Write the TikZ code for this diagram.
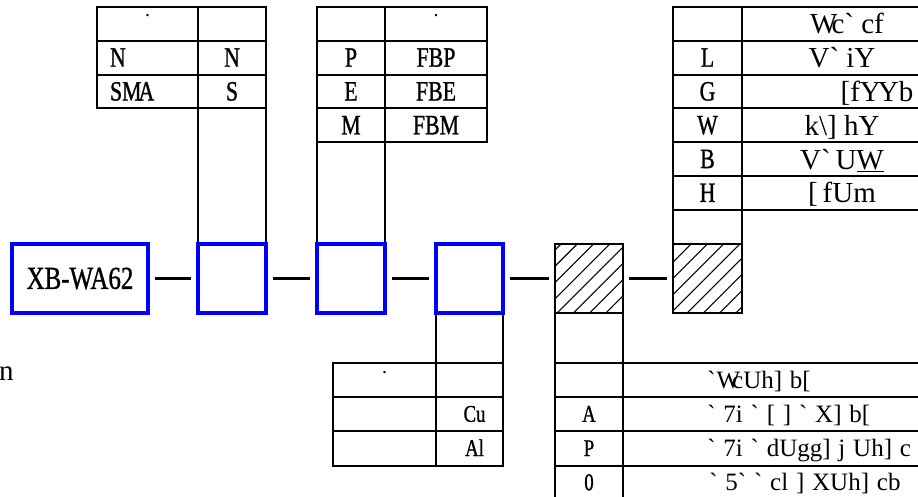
\documentclass[tikz,border=0pt]{standalone}
\usepackage{fontspec}
\setmainfont{Liberation Serif}
\newfontfamily\codeface{Liberation Serif}[FakeStretch=0.78,FakeBold=1]
\newfontfamily\wideface{Liberation Serif}[WordSpace=1.25]
\usetikzlibrary{patterns.meta}
\newcommand{\code}{\codeface\fontsize{28}{31}\selectfont}
\newcommand{\codesm}{\codeface\fontsize{24}{27}\selectfont}
\newcommand{\codebig}{\codeface\fontsize{32}{36}\selectfont}
\newcommand{\gly}{\fontsize{29}{32}\selectfont}
\newcommand{\glysm}{\wideface\fontsize{25}{28}\selectfont}
\newcommand{\bkq}{\textasciigrave}
\newcommand{\bsl}{\textbackslash}
\tikzset{
  cell/.style={draw, line width=1.9pt, inner sep=0pt, minimum height=33.8,
    font=\code, text height=18pt, text depth=0pt},
  unit/.style={draw=blue, line width=3.4pt, inner sep=0pt, minimum height=69,
    fill=white, font=\codebig},
  shade/.style={draw, line width=1.9pt, minimum height=69, inner sep=0pt,
    pattern={Lines[angle=45,distance=11.5pt,line width=1.1pt]}},
  link/.style={line width=2.5pt, shorten <=5pt, shorten >=5pt},
  word/.style={font=\gly, inner sep=0pt, text height=20pt, text depth=0pt},
  speck/.style={font=\fontsize{20}{22}\selectfont, inner sep=0pt}
}

\begin{document}
\begin{tikzpicture}[x=1pt,y=-1pt]
  \clip (0,0) rectangle (918,496);
  % pin table
  \node[cell, minimum width=101] (pin-0-0) at (147.5,23.9) {};
  \node[cell, minimum width=68] (pin-0-1) at (232,23.9) {};
  \node[cell, minimum width=101, text width=75, align=left] (pin-1-0) at (147.5,57.7) {N};
  \node[cell, minimum width=68] (pin-1-1) at (232,57.7) {N};
  \node[cell, minimum width=101, text width=75, align=left] (pin-2-0) at (147.5,91.5) {SM\kern-3pt A};
  \node[cell, minimum width=68] (pin-2-1) at (232,91.5) {S};
  \node[cell, minimum width=68, minimum height=135.6] (pin-leg) at (232,176.2) {};
  \node[speck] (pin-dot) at (147.5,16) {.};
  % bus table
  \node[cell, minimum width=68] (bus-0-0) at (351,23.9) {};
  \node[cell, minimum width=102] (bus-0-1) at (436,23.9) {};
  \node[cell, minimum width=68] (bus-1-0) at (351,57.7) {P};
  \node[cell, minimum width=102] (bus-1-1) at (436,57.7) {FBP};
  \node[cell, minimum width=68] (bus-2-0) at (351,91.5) {E};
  \node[cell, minimum width=102] (bus-2-1) at (436,91.5) {FBE};
  \node[cell, minimum width=68] (bus-3-0) at (351,125.3) {M};
  \node[cell, minimum width=102] (bus-3-1) at (436,125.3) {FBM};
  \node[cell, minimum width=68, minimum height=101.8] (bus-leg) at (351,193.1) {};
  \node[speck] (bus-dot) at (436,16) {.};
  % mode table
  \node[cell, minimum width=69] (mode-0-0) at (707.5,23.9) {};
  \node[cell, word, minimum width=200] (mode-0-1) at (842,23.9) {\hspace{10pt}W\kern-6pt c\bkq{} cf};
  \node[cell, minimum width=69] (mode-1-0) at (707.5,57.7) {L};
  \node[cell, word, minimum width=200] (mode-1-1) at (842,57.7) {V\bkq\ iY};
  \node[cell, minimum width=69] (mode-2-0) at (707.5,91.5) {G};
  \node[cell, minimum width=200] (mode-2-1) at (842,91.5) {};
  \node[word] (mode-2-txt) at ([xshift=35]mode-2-1.center) {[fY\kern-3pt Yb};
  \node[cell, minimum width=69] (mode-3-0) at (707.5,125.3) {W};
  \node[cell, word, minimum width=200] (mode-3-1) at (842,125.3) {k\bsl] hY};
  \node[cell, minimum width=69] (mode-4-0) at (707.5,159.1) {B};
  \node[cell, word, minimum width=200] (mode-4-1) at (842,159.1) {V\bkq\,U\underline{W}};
  \node[cell, minimum width=69] (mode-5-0) at (707.5,192.9) {H};
  \node[cell, word, minimum width=200] (mode-5-1) at (842,192.9) {[\,fUm};
  \node[cell, minimum width=69] (mode-6-0) at (707.5,226.7) {};
  % wire table
  \node[cell, minimum width=67, minimum height=50] (wire-leg) at (469.5,338) {};
  \node[cell, minimum width=103, minimum height=34.2] (wire-0-0) at (384.5,380.1) {};
  \node[cell, minimum width=67, minimum height=34.2] (wire-0-1) at (469.5,380.1) {};
  \node[cell, minimum width=103, minimum height=34.2] (wire-1-0) at (384.5,414.3) {};
  \node[cell, minimum width=67, minimum height=34.2, font=\codesm, text height=15pt] (wire-1-1) at (469.5,414.3) {\hspace{10pt}Cu};
  \node[cell, minimum width=103, minimum height=34.2] (wire-2-0) at (384.5,448.5) {};
  \node[cell, minimum width=67, minimum height=34.2, font=\codesm, text height=15pt] (wire-2-1) at (469.5,448.5) {\hspace{10pt}Al};
  \node[speck] (wire-dot) at (384.5,373) {.};
  % lamp table
  \node[cell, minimum width=68, minimum height=50] (lamp-leg) at (589,338) {};
  \node[cell, minimum width=68, minimum height=34.2] (lamp-0-0) at (589,380.1) {};
  \node[cell, minimum width=377, minimum height=34.2] (lamp-0-1) at (811.5,380.1) {};
  \node[cell, minimum width=68, minimum height=34.2, font=\codesm, text height=15pt] (lamp-1-0) at (589,414.3) {A};
  \node[cell, minimum width=377, minimum height=34.2] (lamp-1-1) at (811.5,414.3) {};
  \node[cell, minimum width=68, minimum height=34.2, font=\codesm, text height=15pt] (lamp-2-0) at (589,448.5) {P};
  \node[cell, minimum width=377, minimum height=34.2] (lamp-2-1) at (811.5,448.5) {};
  \node[cell, minimum width=68, minimum height=34.2, font=\codesm, text height=15pt] (lamp-3-0) at (589,482.7) {0};
  \node[cell, minimum width=377, minimum height=34.2] (lamp-3-1) at (811.5,482.7) {};
  \node[word, font=\glysm, text height=16pt, anchor=west] (lamp-0-txt) at ([xshift=85]lamp-0-1.west) {\bkq\kern1pt W\kern-8pt cUh] b[};
  \node[word, font=\glysm, text height=16pt, anchor=west] (lamp-1-txt) at ([xshift=85]lamp-1-1.west) {\bkq{} 7i \bkq{} [ ] \bkq{} X] b[};
  \node[word, font=\glysm, text height=16pt, anchor=west] (lamp-2-txt) at ([xshift=85]lamp-2-1.west) {\bkq{} 7i \bkq{} dUgg] j Uh] c};
  \node[word, font=\glysm, text height=16pt, anchor=west] (lamp-3-txt) at ([xshift=87]lamp-3-1.west) {\bkq{} 5\bkq{} \bkq{} cl ] XUh] cb};
  % chain
  \node[unit, minimum width=136] (model) at (80,278.5) {XB-WA62};
  \node[unit, minimum width=68] (pins) at (232,278.5) {};
  \node[unit, minimum width=68] (bus) at (351,278.5) {};
  \node[unit, minimum width=67] (wire) at (469.5,278.5) {};
  \node[shade, minimum width=68] (lamp) at (589,278.5) {};
  \node[shade, minimum width=69] (mode) at (707.5,278.5) {};
  \draw[link] (model) -- (pins);
  \draw[link] (pins) -- (bus);
  \draw[link] (bus) -- (wire);
  \draw[link] (wire) -- (lamp);
  \draw[link] (lamp) -- (mode);
  \node[word, anchor=base west] (cut) at (-1,380) {n};
\end{tikzpicture}
\end{document}
